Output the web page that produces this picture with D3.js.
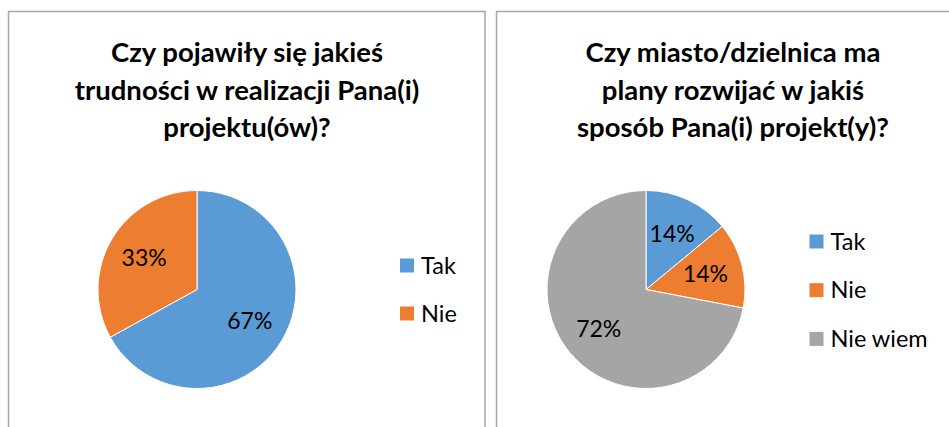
<!DOCTYPE html>
<html>
<head>
<meta charset="utf-8">
<script src="https://cdn.jsdelivr.net/npm/d3@7"></script>
<style>
  html, body { margin: 0; padding: 0; background: #fff; }
  svg { display: block; font-family: Lato, "Open Sans", sans-serif; }
</style>
</head>
<body>
<svg id="here"></svg>
<script>
// data
const leftTitle = ["Czy pojawiły się jakieś", "trudności w realizacji Pana(i)", "projektu(ów)?"];
const leftCategories = ["Tak", "Nie"];
const leftValues = [67, 33];

const rightTitle = ["Czy miasto/dzielnica ma", "plany rozwijać w jakiś", "sposób Pana(i) projekt(y)?"];
const rightCategories = ["Tak", "Nie", "Nie wiem"];
const rightValues = [14, 14, 72];

const colors = ["#5b9bd5", "#ed7d31", "#a5a5a5"];

const width = 949, height = 427;
const svg = d3.select("#here").attr("width", width).attr("height", height);

const panels = [
  {title: leftTitle, cats: leftCategories, vals: leftValues,
   box: [8.5, 11.5, 476.5], titleX: 247, cx: 197, cy: 289.5, legX: 400, legY: 265.5, legStep: 48},
  {title: rightTitle, cats: rightCategories, vals: rightValues,
   box: [496.5, 11.5, 470], titleX: 733, cx: 646, cy: 289.5, legX: 809.5, legY: 241.5, legStep: 48.7}
];

const r = 99;
const pie = d3.pie().sort(null).value(d => d);
const arc = d3.arc().innerRadius(0).outerRadius(r);
const labelArc = d3.arc().innerRadius(r * 0.62).outerRadius(r * 0.62);

panels.forEach(p => {
  const g = svg.append("g");

  // panel frame (open at bottom / right edge of picture)
  const [bx, by, bw] = p.box;
  g.append("path")
    .attr("d", `M${bx},${height + 5}V${by}H${bx + bw}V${height + 5}`)
    .attr("fill", "none")
    .attr("stroke", "#a6a6a6")
    .attr("stroke-width", 1.5);

  // title
  g.append("text")
    .attr("text-anchor", "middle")
    .attr("font-weight", "bold")
    .attr("font-size", 27.5)
    .attr("fill", "#000")
    .selectAll("tspan")
    .data(p.title)
    .join("tspan")
    .attr("x", p.titleX)
    .attr("y", (d, i) => 62 + i * 37.5)
    .text(d => d);

  // slices
  const arcs = pie(p.vals);
  const pg = g.append("g").attr("transform", `translate(${p.cx},${p.cy})`);
  pg.selectAll("path")
    .data(arcs)
    .join("path")
    .attr("d", arc)
    .attr("fill", (d, i) => colors[i])
    .attr("stroke", "#fff")
    .attr("stroke-width", 1);

  pg.selectAll("text")
    .data(arcs)
    .join("text")
    .attr("transform", d => `translate(${labelArc.centroid(d)})`)
    .attr("text-anchor", "middle")
    .attr("dy", "0.35em")
    .attr("font-size", 23)
    .attr("fill", "#000")
    .text(d => d.data + "%");

  // legend
  const lg = g.append("g").attr("transform", `translate(${p.legX},${p.legY})`);
  const items = lg.selectAll("g")
    .data(p.cats)
    .join("g")
    .attr("transform", (d, i) => `translate(0,${i * p.legStep})`);
  items.append("rect")
    .attr("x", 0).attr("y", -7)
    .attr("width", 14).attr("height", 14)
    .attr("fill", (d, i) => colors[i]);
  items.append("text")
    .attr("x", 21)
    .attr("dy", "0.35em")
    .attr("font-size", 23.5)
    .attr("fill", "#000")
    .text(d => d);
});
</script>
</body>
</html>
